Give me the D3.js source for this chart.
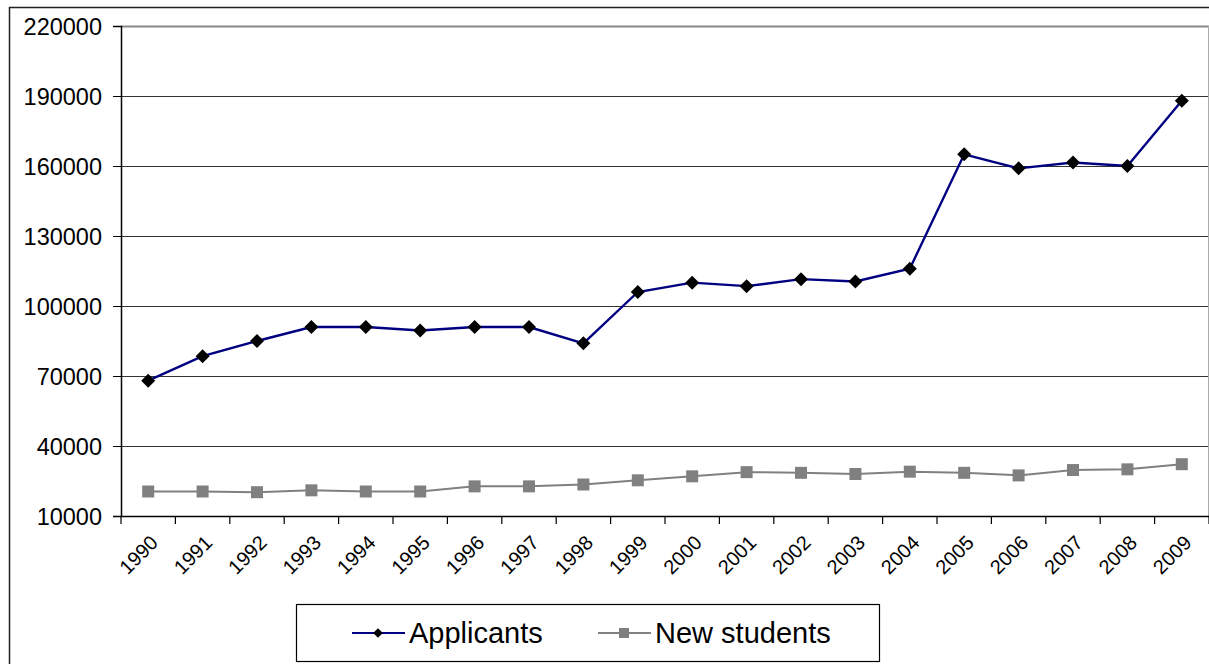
<!DOCTYPE html>
<html><head><meta charset="utf-8">
<script src="https://cdn.jsdelivr.net/npm/d3@7"></script>
<style>body{margin:0;background:#fff}svg{display:block}text{font-family:"Liberation Sans",Arial,sans-serif}</style>
</head><body>
<svg id="c" width="1209" height="664"></svg>
<script>
const years = ["1990","1991","1992","1993","1994","1995","1996","1997","1998","1999","2000","2001","2002","2003","2004","2005","2006","2007","2008","2009"];
const applicants = [68000,78500,85000,91000,91000,89500,91000,91000,84000,106000,110000,108500,111500,110500,116000,165000,159000,161500,160000,188000];
const newStudents = [20500,20500,20200,21000,20500,20500,22700,22700,23500,25300,27000,28800,28500,28000,29000,28500,27400,29700,30000,32200];
const yTicks = [10000,40000,70000,100000,130000,160000,190000,220000];
const seriesNames = ["Applicants","New students"];

const svg = d3.select("#c");
const L=121, R=1209, T=26, B=516;
const x = d3.scaleBand().domain(years).range([L,R]);
const y = d3.scaleLinear().domain([10000,220000]).range([B,T]);

// outer frame
svg.append("path").attr("d","M9.5,664 V7.5 H1209").attr("fill","none").attr("stroke","#222").attr("stroke-width",1.5);

// gridlines
svg.append("g").selectAll("line").data(yTicks.filter(d=>d>10000)).join("line")
  .attr("x1",L).attr("x2",R).attr("y1",d=>Math.round(y(d))+0.5).attr("y2",d=>Math.round(y(d))+0.5)
  .attr("stroke",d=>d===220000?"#888":"#333").attr("stroke-width",d=>d===220000?2:1);
svg.append("line").attr("x1",R-0.5).attr("x2",R-0.5).attr("y1",T).attr("y2",B).attr("stroke","#aaa");

// y axis
const ya = svg.append("g").attr("transform",`translate(${L},0)`)
  .call(d3.axisLeft(y).tickValues(yTicks).tickSize(8).tickPadding(11).tickFormat(d3.format("d")));
ya.attr("font-size",null).attr("font-family",null);
ya.select(".domain").attr("stroke","#000").attr("stroke-width",1.5);
ya.selectAll(".tick line").attr("stroke","#000");
ya.selectAll("text").style("font-size","23.5px").attr("fill","#000").attr("dy","0.35em");

// x axis
const xa = svg.append("g").attr("transform",`translate(0,${B})`)
  .call(d3.axisBottom(x).tickSize(0).tickFormat(d=>d));
xa.attr("font-size",null).attr("font-family",null);
xa.select(".domain").attr("stroke","#000").attr("stroke-width",1.5);
xa.selectAll(".tick text").style("font-size","20px").attr("fill","#000")
  .attr("text-anchor","end").attr("y",0).attr("dy",0).attr("transform","translate(11,28) rotate(-45)");
svg.append("g").selectAll("line").data(years.map(d=>x(d)).concat([R])).join("line")
  .attr("x1",d=>d).attr("x2",d=>d).attr("y1",B).attr("y2",B+8).attr("stroke","#000").attr("stroke-width",1.2);

const cx = d=>x(d)+x.bandwidth()/2;
const lineGen = vals => d3.line().x((d,i)=>cx(years[i])).y(d=>y(d))(vals);

svg.append("path").attr("d",lineGen(newStudents)).attr("fill","none").attr("stroke","#808080").attr("stroke-width",2);
svg.append("g").selectAll("rect").data(newStudents).join("rect")
  .attr("x",(d,i)=>cx(years[i])-6).attr("y",d=>y(d)-6).attr("width",12).attr("height",12).attr("fill","#808080");

svg.append("path").attr("d",lineGen(applicants)).attr("fill","none").attr("stroke","#000080").attr("stroke-width",2.4);
const diamond = d3.symbol().type(d3.symbolDiamond2).size(125);
svg.append("g").selectAll("path").data(applicants).join("path")
  .attr("d",diamond).attr("transform",(d,i)=>`translate(${cx(years[i])},${y(d)})`).attr("fill","#000");

// legend
const lg = svg.append("g");
lg.append("rect").attr("x",296.5).attr("y",604.5).attr("width",583).attr("height",57).attr("fill","#fff").attr("stroke","#000").attr("stroke-width",1.2);
const items=[{name:seriesNames[0],x0:352,color:"#000080",m:"d"},{name:seriesNames[1],x0:598,color:"#808080",m:"s"}];
items.forEach(it=>{
  lg.append("line").attr("x1",it.x0).attr("x2",it.x0+53).attr("y1",633).attr("y2",633).attr("stroke",it.color).attr("stroke-width",2);
  if(it.m==="d") lg.append("path").attr("d",d3.symbol().type(d3.symbolDiamond2).size(60)).attr("transform",`translate(${it.x0+26},633)`).attr("fill","#000");
  else lg.append("rect").attr("x",it.x0+21).attr("y",628).attr("width",10).attr("height",10).attr("fill","#808080");
  lg.append("text").attr("x",it.x0+57).attr("y",643).style("font-size","29px").attr("fill","#000").text(it.name);
});
</script>
</body></html>
